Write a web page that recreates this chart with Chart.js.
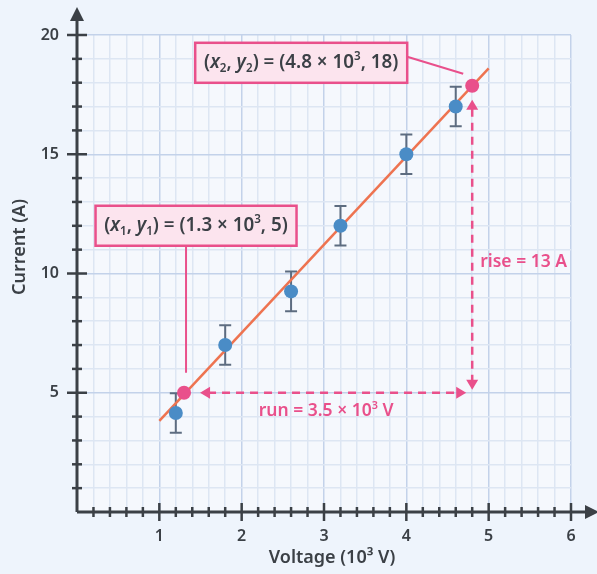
<!DOCTYPE html>
<html>
<head>
<meta charset="utf-8">
<script src="https://cdn.jsdelivr.net/npm/chart.js@4.4.0/dist/chart.umd.min.js"></script>
<style>
  html, body { margin: 0; padding: 0; background: #eef4fc; }
  #chart { display: block; }
</style>
</head>
<body>
<canvas id="chart" width="597" height="574"></canvas>
<script>
// measured values
const voltage = [1.2, 1.8, 2.6, 3.2, 4.0, 4.6];
const current = [4.15, 7.0, 9.25, 12.0, 15.0, 17.0];
const currentErr = [0.83, 0.83, 0.83, 0.83, 0.83, 0.83];

// best fit line ends
const fitX = [1, 5];
const fitY = [3.82, 18.6];

// two points picked off the line
const pickX = [1.3, 4.8];
const pickY = [5, 17.87];

const xTickLabels = [1, 2, 3, 4, 5, 6];
const yTickLabels = [5, 10, 15, 20];
const xTitle = 'Voltage (10³ V)';
const yTitle = 'Current (A)';

const FONT = '"Noto Sans", "Open Sans", sans-serif';
const PINK = '#e9508b';
const DARK = '#3b4046';

function isMajor(v, step) {
  return Math.abs(v / step - Math.round(v / step)) < 1e-6;
}

// draws text like (x1, y1) = (...) with italics, subscripts and superscripts
function richText(ctx, parts, cx, cy, size, color) {
  const fontFor = (p) => {
    const s = p.sub || p.sup ? size * 0.62 : size;
    return (p.it ? 'italic ' : '') + '600 ' + s + 'px ' + FONT;
  };
  let total = 0;
  parts.forEach((p) => {
    ctx.font = fontFor(p);
    p.w = ctx.measureText(p.t).width;
    total += p.w;
  });
  let x = cx - total / 2;
  ctx.fillStyle = color;
  ctx.textBaseline = 'middle';
  ctx.textAlign = 'left';
  parts.forEach((p) => {
    ctx.font = fontFor(p);
    let y = cy;
    if (p.sub) y += size * 0.32;
    if (p.sup) y -= size * 0.3;
    ctx.fillText(p.t, x, y);
    x += p.w;
  });
  return total;
}

function arrowHead(ctx, x, y, dir) {
  const s = 10, h = 6;
  ctx.beginPath();
  if (dir === 'left') { ctx.moveTo(x, y); ctx.lineTo(x + s, y - h); ctx.lineTo(x + s, y + h); }
  if (dir === 'right') { ctx.moveTo(x, y); ctx.lineTo(x - s, y - h); ctx.lineTo(x - s, y + h); }
  if (dir === 'up') { ctx.moveTo(x, y); ctx.lineTo(x - h, y + s); ctx.lineTo(x + h, y + s); }
  if (dir === 'down') { ctx.moveTo(x, y); ctx.lineTo(x - h, y - s); ctx.lineTo(x + h, y - s); }
  ctx.closePath();
  ctx.fill();
}

const extras = {
  id: 'extras',
  beforeDraw(chart) {
    const { ctx, chartArea: a } = chart;
    ctx.save();
    ctx.fillStyle = '#f5f8fd';
    ctx.fillRect(a.left, a.top, a.right - a.left, a.bottom - a.top);
    ctx.restore();
  },
  beforeDatasetsDraw(chart) {
    const { ctx, scales } = chart;
    ctx.save();
    ctx.strokeStyle = '#5d6c80';
    ctx.lineWidth = 2;
    voltage.forEach((v, i) => {
      const x = scales.x.getPixelForValue(v);
      const y1 = scales.y.getPixelForValue(current[i] + currentErr[i]);
      const y2 = scales.y.getPixelForValue(current[i] - currentErr[i]);
      ctx.beginPath();
      ctx.moveTo(x, y1); ctx.lineTo(x, y2);
      ctx.moveTo(x - 6, y1); ctx.lineTo(x + 6, y1);
      ctx.moveTo(x - 6, y2); ctx.lineTo(x + 6, y2);
      ctx.stroke();
    });
    ctx.restore();
  },
  afterDatasetsDraw(chart) {
    const { ctx, scales, chartArea: a } = chart;
    const X = (v) => scales.x.getPixelForValue(v);
    const Y = (v) => scales.y.getPixelForValue(v);
    ctx.save();

    // axes with arrows and tick marks
    const ox = X(0), oy = Y(0);
    ctx.strokeStyle = DARK;
    ctx.fillStyle = DARK;
    ctx.lineWidth = 3;
    ctx.beginPath();
    ctx.moveTo(ox, oy); ctx.lineTo(a.right + 18, oy);
    ctx.moveTo(ox, oy); ctx.lineTo(ox, a.top - 18);
    ctx.stroke();
    ctx.beginPath();
    ctx.moveTo(a.right + 28, oy); ctx.lineTo(a.right + 14, oy - 7); ctx.lineTo(a.right + 14, oy + 7);
    ctx.closePath(); ctx.fill();
    ctx.beginPath();
    ctx.moveTo(ox, a.top - 28); ctx.lineTo(ox - 7, a.top - 14); ctx.lineTo(ox + 7, a.top - 14);
    ctx.closePath(); ctx.fill();
    ctx.lineWidth = 2.5;
    for (let i = 1; i <= 30; i++) {
      const v = i * 0.2;
      const x = X(v);
      const len = isMajor(v, 1) ? 9 : 5;
      ctx.beginPath(); ctx.moveTo(x, oy - len); ctx.lineTo(x, oy + len); ctx.stroke();
    }
    for (let i = 1; i <= 20; i++) {
      const y = Y(i);
      const len = isMajor(i, 5) ? 10 : 5;
      ctx.beginPath(); ctx.moveTo(ox - len, y); ctx.lineTo(ox + len, y); ctx.stroke();
    }

    // axis titles
    ctx.font = '600 18px ' + FONT;
    ctx.textAlign = 'center';
    ctx.textBaseline = 'middle';
    ctx.fillText(xTitle, 332, 558);
    ctx.save();
    ctx.translate(20, 247);
    ctx.rotate(-Math.PI / 2);
    ctx.fillText(yTitle, 0, 0);
    ctx.restore();

    // rise / run dashed arrows
    const p1x = X(pickX[0]), p1y = Y(pickY[0]);
    const p2x = X(pickX[1]), p2y = Y(pickY[1]);
    ctx.strokeStyle = PINK;
    ctx.fillStyle = PINK;
    ctx.lineWidth = 2.5;
    ctx.setLineDash([8, 6]);
    ctx.beginPath();
    ctx.moveTo(p1x + 24, p1y); ctx.lineTo(p2x - 14, p1y);
    ctx.moveTo(p2x, p1y - 10); ctx.lineTo(p2x, p2y + 22);
    ctx.stroke();
    ctx.setLineDash([]);
    arrowHead(ctx, p1x + 16, p1y, 'left');
    arrowHead(ctx, p2x - 6, p1y, 'right');
    arrowHead(ctx, p2x, p1y - 3, 'down');
    arrowHead(ctx, p2x, p2y + 14, 'up');

    richText(ctx, [{ t: 'run = 3.5 × 10' }, { t: '3', sup: true }, { t: ' V' }],
      (p1x + p2x) / 2 - 2, p1y + 18, 17.5, PINK);
    ctx.textAlign = 'left';
    ctx.font = '600 17.5px ' + FONT;
    ctx.fillText('rise = 13 A', p2x + 8, Y(10.5));

    // label boxes with connectors
    const boxes = [
      { cx: p1x + 12, cy: p1y - 167, w: 201, h: 40, sub: '1', rest: '1.3 × 10', tail: ', 5)',
        line: [p1x + 2, p1y - 147, p1x + 2, p1y - 20] },
      { cx: p2x - 171, cy: p2y - 23, w: 212, h: 40, sub: '2', rest: '4.8 × 10', tail: ', 18)',
        line: [p2x - 65, p2y - 29, p2x - 9, p2y - 12] }
    ];
    boxes.forEach((b) => {
      ctx.strokeStyle = PINK;
      ctx.lineWidth = 2;
      ctx.beginPath();
      ctx.moveTo(b.line[0], b.line[1]); ctx.lineTo(b.line[2], b.line[3]);
      ctx.stroke();
      ctx.fillStyle = '#fce4ee';
      ctx.fillRect(b.cx - b.w / 2, b.cy - b.h / 2, b.w, b.h);
      ctx.lineWidth = 2.5;
      ctx.strokeRect(b.cx - b.w / 2, b.cy - b.h / 2, b.w, b.h);
      richText(ctx, [
        { t: '(' }, { t: 'x', it: true }, { t: b.sub, sub: true }, { t: ', ' },
        { t: 'y', it: true }, { t: b.sub, sub: true }, { t: ') = (' + b.rest },
        { t: '3', sup: true }, { t: b.tail }
      ], b.cx, b.cy, 18.8, DARK);
    });
    ctx.restore();
  }
};

new Chart(document.getElementById('chart'), {
  type: 'scatter',
  data: {
    datasets: [
      {
        type: 'line',
        data: fitX.map((x, i) => ({ x, y: fitY[i] })),
        borderColor: '#ee7350',
        borderWidth: 2.5,
        pointRadius: 0,
        order: 3
      },
      {
        data: voltage.map((x, i) => ({ x, y: current[i] })),
        backgroundColor: '#4a8cc6',
        pointRadius: 7,
        pointBorderWidth: 0,
        order: 2
      },
      {
        data: pickX.map((x, i) => ({ x, y: pickY[i] })),
        backgroundColor: PINK,
        pointRadius: 7,
        pointBorderWidth: 0,
        order: 1
      }
    ]
  },
  options: {
    responsive: false,
    animation: false,
    layout: { padding: { top: 35, right: 26, left: 0, bottom: 0 } },
    plugins: { legend: { display: false }, tooltip: { enabled: false } },
    scales: {
      x: {
        type: 'linear',
        min: 0,
        max: 6,
        afterFit: (s) => { s.height = 62; },
        border: { display: false },
        grid: {
          drawTicks: false,
          color: (c) => isMajor(c.tick.value, 1) ? '#c3d2ea' : '#dde6f3',
          lineWidth: 1.5
        },
        ticks: {
          stepSize: 0.2,
          padding: 15,
          maxRotation: 0,
          autoSkip: false,
          color: DARK,
          font: { family: FONT, size: 16, weight: '600' },
          callback: (v) => xTickLabels.find((t) => Math.abs(t - v) < 1e-6) !== undefined ? Math.round(v) : ''
        },
        title: { display: false }
      },
      y: {
        type: 'linear',
        min: 0,
        max: 20,
        afterFit: (s) => { s.width = 77; },
        border: { display: false },
        grid: {
          drawTicks: false,
          color: (c) => isMajor(c.tick.value, 5) ? '#c3d2ea' : '#dde6f3',
          lineWidth: 1.5
        },
        ticks: {
          stepSize: 1,
          padding: 18,
          autoSkip: false,
          color: DARK,
          font: { family: FONT, size: 16, weight: '600' },
          callback: (v) => yTickLabels.includes(v) ? v : ''
        },
        title: { display: false }
      }
    }
  },
  plugins: [extras]
});
</script>
</body>
</html>
